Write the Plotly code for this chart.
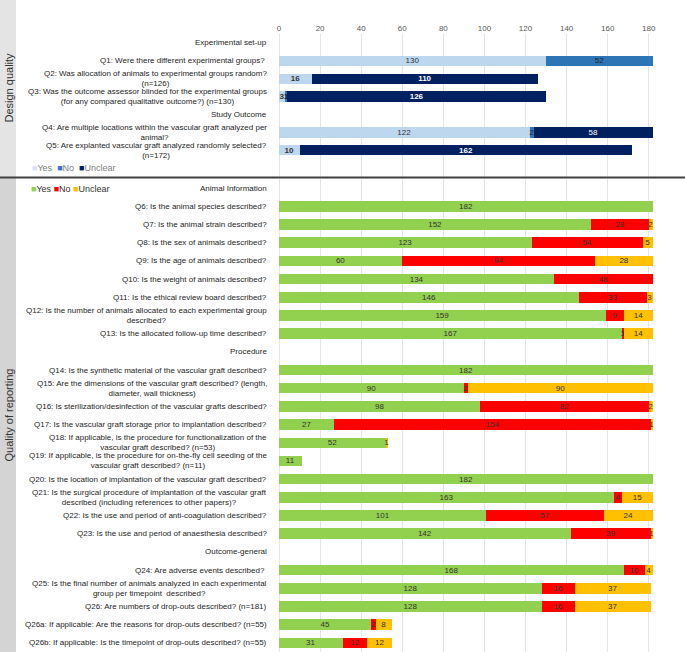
import plotly.graph_objects as go

# ---- data ----
design_keys = ['h_exp', 'Q1', 'Q2', 'Q3', 'h_study', 'Q4', 'Q5', 'pad']
design_labels = [
    'Experimental set-up',
    'Q1: Were there different experimental groups? ',
    'Q2: Was allocation of animals to experimental groups random?<br>(n=126)',
    'Q3: Was the outcome assessor blinded for the experimental groups<br>(for any compared qualitative outcome?) (n=130)',
    'Study Outcome',
    'Q4: Are multiple locations within the vascular graft analyzed per<br>animal?',
    'Q5: Are explanted vascular graft analyzed randomly selected?<br>(n=172)',
    '',
]
design_yes = [None, 130, 16, 3, None, 122, 10, None]
design_no = [None, 52, 0, 1, None, 2, 0, None]
design_unclear = [None, 0, 110, 126, None, 58, 162, None]
design_bold = ['Q2', 'Q3', 'Q5']

report_keys = ['h_animal', 'Q6', 'Q7', 'Q8', 'Q9', 'Q10', 'Q11', 'Q12', 'Q13',
               'h_proc', 'Q14', 'Q15', 'Q16', 'Q17', 'Q18', 'Q19', 'Q20', 'Q21', 'Q22', 'Q23',
               'h_out', 'Q24', 'Q25', 'Q26', 'Q26a', 'Q26b']
report_labels = [
    'Animal Information',
    'Q6: Is the animal species described?',
    'Q7: Is the animal strain described?',
    'Q8: Is the sex of animals described?',
    'Q9: Is the age of animals described?',
    'Q10: Is the weight of animals described?',
    'Q11: Is the ethical review board described?',
    'Q12: Is the number of animals allocated to each experimental group<br>described?',
    'Q13: Is the allocated follow-up time described?',
    'Procedure',
    'Q14: Is the synthetic material of the vascular graft described?',
    'Q15: Are the dimensions of the vascular graft described? (length,<br>diameter, wall thickness)',
    'Q16: Is sterilization/desinfection of the vascular grafts described?',
    'Q17: Is the vascular graft storage prior to implantation described?',
    'Q18: If applicable, is the procedure for functionalization of the<br>vascular graft described? (n=53)',
    'Q19: If applicable, is the procedure for on-the-fly cell seeding of the<br>vascular graft described? (n=11)',
    'Q20: Is the location of implantation of the vascular graft described?',
    'Q21: Is the surgical procedure of implantation of the vascular graft<br>described (including references to other papers)?',
    'Q22: Is the use and period of anti-coagulation described?',
    'Q23: Is the use and period of anaesthesia described?',
    'Outcome-general',
    'Q24: Are adverse events described? ',
    'Q25: Is the final number of animals analyzed in each experimental<br>group per timepoint  described?',
    'Q26: Are numbers of drop-outs described? (n=181)',
    'Q26a: If applicable: Are the reasons for drop-outs described? (n=55)',
    'Q26b: If applicable: Is the timepoint of drop-outs described? (n=55)',
]
report_yes = [None, 182, 152, 123, 60, 134, 146, 159, 167,
              None, 182, 90, 98, 27, 52, 11, 182, 163, 101, 142,
              None, 168, 128, 128, 45, 31]
report_no = [None, 0, 28, 54, 94, 48, 33, 9, 1,
             None, 0, 2, 82, 154, 0, 0, 0, 4, 57, 39,
             None, 10, 16, 16, 2, 12]
report_unclear = [None, 0, 2, 5, 28, 0, 3, 14, 14,
                  None, 0, 90, 2, 1, 1, 0, 0, 15, 24, 1,
                  None, 4, 37, 37, 8, 12]

FONT = 'Liberation Sans, Arial, sans-serif'
W, H = 685, 652
ML, MR, MT, MB = 279, 28, 34, 0
PW, PH = W - ML - MR, H - MT - MB


def px_y(py):
    return (H - MB - py) / PH


def px_x(px):
    return (px - ML) / PW


def labels(vals, keys, bold=()):
    out = []
    for v, k in zip(vals, keys):
        if not v:
            out.append('')
        elif k in bold:
            out.append('<b>%d</b>' % v)
        else:
            out.append(str(v))
    return out


fig = go.Figure()

top = [('Yes', design_yes, '#BDD7EE', '#333333'),
       ('No', design_no, '#2E75B6', '#222222'),
       ('Unclear', design_unclear, '#002060', 'white')]
for name, vals, col, tcol in top:
    fig.add_trace(go.Bar(
        y=design_keys, x=vals, orientation='h', name=name,
        marker=dict(color=col, line=dict(width=0)),
        text=labels(vals, design_keys, design_bold), textposition='inside',
        insidetextanchor='middle', textangle=0,
        textfont=dict(size=8, color=tcol, family=FONT),
        xaxis='x', yaxis='y', showlegend=False, cliponaxis=False))

bottom = [('Yes', report_yes, '#92D050'),
          ('No', report_no, '#FF0000'),
          ('Unclear', report_unclear, '#FFC000')]
for name, vals, col in bottom:
    fig.add_trace(go.Bar(
        y=report_keys, x=vals, orientation='h', name=name,
        marker=dict(color=col, line=dict(width=0)),
        text=labels(vals, report_keys), textposition='inside',
        insidetextanchor='middle', textangle=0,
        textfont=dict(size=8, color='#333333', family=FONT),
        xaxis='x2', yaxis='y2', showlegend=False, cliponaxis=False))

grid = dict(range=[0, 184], showgrid=True, gridcolor='#E4E4E4', gridwidth=1,
            zeroline=True, zerolinecolor='#E4E4E4', zerolinewidth=1,
            tick0=0, dtick=20, showline=False)

fig.update_layout(
    width=W, height=H, barmode='stack', bargap=0.42,
    margin=dict(l=ML, r=MR, t=MT, b=MB),
    paper_bgcolor='white', plot_bgcolor='white',
    font=dict(family=FONT, size=9, color='#333333'),
    uniformtext=dict(minsize=8, mode='show'),
    xaxis=dict(grid, anchor='y', side='top',
               tickfont=dict(size=8, color='#595959'), ticks=''),
    xaxis2=dict(grid, anchor='y2', matches='x', showticklabels=False),
    yaxis=dict(domain=[px_y(177), 1], anchor='x', type='category',
               categoryorder='array', categoryarray=design_keys,
               autorange='reversed', showticklabels=False, showgrid=False),
    yaxis2=dict(domain=[0, px_y(179)], anchor='x2', type='category',
                categoryorder='array', categoryarray=report_keys,
                autorange='reversed', showticklabels=False, showgrid=False),
)

# category labels (centre-aligned lines, block right-aligned to the axis)
lab_font = dict(size=8, color='#262626', family=FONT)
for k, lab in zip(design_keys, design_labels):
    if lab:
        fig.add_annotation(x=0, xref='paper', xshift=-10, xanchor='right',
                           y=k, yref='y', yanchor='middle', text=lab,
                           showarrow=False, align='center', font=lab_font)
for k, lab in zip(report_keys, report_labels):
    fig.add_annotation(x=0, xref='paper', xshift=-10, xanchor='right',
                       y=k, yref='y2', yanchor='middle', text=lab,
                       showarrow=False, align='center', font=lab_font)

# side strip with section names
fig.add_shape(type='rect', xref='paper', yref='paper', layer='below',
              x0=px_x(0), x1=px_x(16), y0=px_y(177), y1=px_y(0),
              fillcolor='#E4E4E4', line=dict(width=0))
fig.add_shape(type='rect', xref='paper', yref='paper', layer='below',
              x0=px_x(0), x1=px_x(16), y0=px_y(652), y1=px_y(177),
              fillcolor='#D4D4D4', line=dict(width=0))
fig.add_shape(type='line', xref='paper', yref='paper',
              x0=px_x(0), x1=px_x(685), y0=px_y(177.5), y1=px_y(177.5),
              line=dict(color='#404040', width=2))
side_font = dict(size=11, color='#333333', family=FONT)
fig.add_annotation(x=px_x(8.5), xref='paper', xanchor='center', y=px_y(88), yref='paper',
                   yanchor='middle', text='Design quality', textangle=-90,
                   showarrow=False, font=side_font)
fig.add_annotation(x=px_x(8.5), xref='paper', xanchor='center', y=px_y(415), yref='paper',
                   yanchor='middle', text='Quality of reporting', textangle=-90,
                   showarrow=False, font=side_font)

# legends
sq = '<span style="color:%s;font-size:9px">■</span>'
fig.add_annotation(x=px_x(30), xref='paper', xanchor='left', y=px_y(168), yref='paper',
                   yanchor='middle', showarrow=False,
                   font=dict(size=9, color='#7F7F7F', family=FONT),
                   text=(sq % '#D9E2F3') + 'Yes  ' + (sq % '#4472C4') + 'No  '
                   + (sq % '#002060') + 'Unclear')
fig.add_annotation(x=px_x(29), xref='paper', xanchor='left', y=px_y(189), yref='paper',
                   yanchor='middle', showarrow=False,
                   font=dict(size=9, color='#333333', family=FONT),
                   text=(sq % '#92D050') + 'Yes ' + (sq % '#FF0000') + 'No '
                   + (sq % '#FFC000') + 'Unclear')

fig.write_html("out.html", config={'displayModeBar': False},
               post_script="document.body.style.margin='0';")
